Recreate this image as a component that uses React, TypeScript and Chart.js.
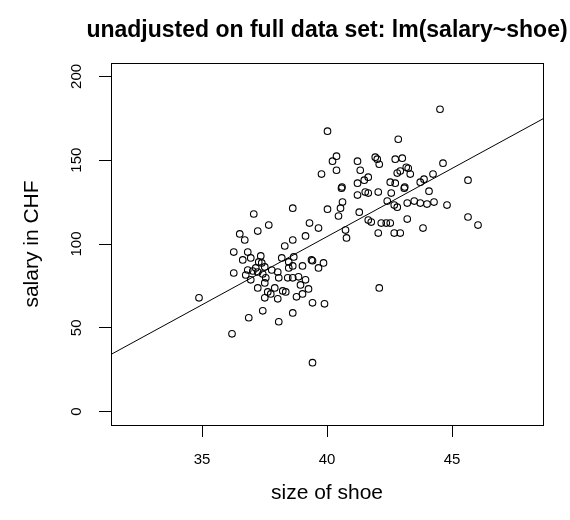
import React, { useEffect, useRef } from "react";
import { Chart, registerables } from "chart.js";

Chart.register(...registerables);

const titleText = "unadjusted on full data set: lm(salary~shoe)";
const xTitle = "size of shoe";
const yTitle = "salary in CHF";

const xTicks = [35, 40, 45];
const yTicks = [0, 50, 100, 150, 200];
const xRange = [31.36, 48.64];
const yRange = [-8, 208];

// fitted line read at the two edges of the plot region
const fitShoe = [31.36, 48.64];
const fitSalary = [34.1, 174.7];

const shoe = [
  40.02, 40.22, 40.38, 40.38, 39.78, 37.07, 38.63, 40.02, 37.67, 37.23, 39.3, 39.66, 36.51, 36.71, 39.14,
  44.52, 42.85, 41.22, 41.93, 42.01, 42.09, 42.73, 43.01, 43.17, 43.25, 43.33, 42.81, 42.93, 44.64, 41.33,
  41.65, 41.49, 41.22, 40.58, 40.6, 42.53, 42.73, 43.09, 43.11, 43.73, 43.88, 44.24, 45.64, 44.08, 41.53,
  41.65, 41.22, 42.05, 42.57, 40.62, 40.54, 40.46, 42.41, 42.69, 42.81, 43.21, 43.49, 43.73, 44.0, 44.28,
  44.8, 41.29, 41.65, 41.77, 42.17, 42.37, 42.53, 43.21, 43.84, 45.64, 46.04, 40.74, 42.05, 42.69, 42.93,
  40.78, 42.09,
  38.31, 38.63, 36.27, 36.83, 37.35, 36.63, 36.95, 38.19, 38.67, 38.47, 39.38, 39.42, 39.86, 39.66, 39.02,
  37.39, 37.51, 36.27, 36.83, 37.03, 37.23, 37.43, 36.95, 37.79, 38.03, 38.47, 38.63, 38.43, 38.63, 38.86,
  37.55, 38.07, 37.23, 37.51, 37.91, 38.23, 38.35, 39.14, 38.94, 39.26, 37.63, 37.75, 37.51, 38.03, 38.78,
  39.02, 39.42, 39.9, 34.88, 37.43, 36.87, 38.63, 38.07, 36.2, 39.42, 37.15, 36.75, 37.27,
];

const salary = [
  167.3, 149.4, 152.4, 144.0, 141.7, 117.9, 121.4, 120.8, 111.3, 107.7, 112.5, 109.5, 106.0, 102.4, 104.8,
  180.4, 162.5, 149.4, 151.8, 150.6, 147.6, 150.6, 151.2, 145.8, 145.2, 141.7, 142.3, 143.5, 148.2, 144.0,
  139.9, 138.1, 136.3, 133.3, 134.0, 136.9, 136.3, 133.3, 134.0, 136.9, 138.7, 141.7, 138.1, 131.5, 131.0,
  130.4, 129.2, 131.0, 130.4, 125.0, 121.4, 116.7, 125.6, 123.2, 122.0, 124.4, 125.6, 124.4, 123.8, 125.0,
  123.2, 119.0, 114.3, 113.1, 112.5, 112.5, 112.5, 114.9, 109.5, 116.1, 111.3, 108.3, 106.5, 106.5, 106.5,
  103.6, 73.8,
  98.8, 102.4, 95.2, 95.2, 92.9, 90.5, 91.7, 91.7, 92.3, 89.3, 90.5, 90.0, 88.7, 85.7, 86.9,
  88.7, 86.3, 82.7, 84.5, 83.9, 83.3, 82.1, 78.6, 84.5, 83.3, 85.7, 86.9, 79.8, 79.8, 80.4,
  79.8, 79.8, 73.8, 76.8, 73.8, 72.0, 71.4, 78.6, 75.6, 73.2, 71.4, 70.2, 67.9, 67.3, 68.5,
  70.2, 64.9, 64.3, 67.9, 60.1, 56.0, 58.9, 53.6, 46.4, 29.2, 85.7, 81.5, 89.3,
];

const FONT = "'Liberation Sans', Arial, sans-serif";

const rPlot = {
  id: "rPlot",
  afterDraw(chart: any) {
    const { ctx, chartArea: a, scales } = chart;
    ctx.save();
    ctx.strokeStyle = "#000";
    ctx.lineWidth = 1;
    ctx.strokeRect(a.left + 0.5, a.top + 0.5, a.right - a.left, a.bottom - a.top);
    ctx.fillStyle = "#000";
    ctx.font = `15px ${FONT}`;
    ctx.textAlign = "center";
    ctx.textBaseline = "middle";
    for (const v of yTicks) {
      const y = scales.y.getPixelForValue(v);
      ctx.save();
      ctx.translate(a.left - 34, y);
      ctx.rotate(-Math.PI / 2);
      ctx.fillText(String(v), 0, 0);
      ctx.restore();
    }
    ctx.font = `bold 23px ${FONT}`;
    ctx.textBaseline = "alphabetic";
    ctx.fillText(titleText, (a.left + a.right) / 2, 37);
    ctx.restore();
  },
};

export default function App() {
  const ref = useRef<HTMLCanvasElement>(null);
  useEffect(() => {
    if (!ref.current) return;
    const points = shoe.map((s, i) => ({ x: s, y: salary[i] }));
    const fit = fitShoe.map((s, i) => ({ x: s, y: fitSalary[i] }));
    const chart = new Chart(ref.current, {
      type: "scatter",
      data: {
        datasets: [
          {
            data: points,
            pointStyle: "circle",
            pointRadius: 3.3,
            borderColor: "#000",
            backgroundColor: "rgba(0,0,0,0)",
            borderWidth: 1.1,
          },
          {
            type: "line",
            data: fit,
            borderColor: "#000",
            borderWidth: 1,
            pointRadius: 0,
            showLine: true,
            fill: false,
          } as any,
        ],
      },
      options: {
        responsive: false,
        animation: false,
        events: [],
        layout: { padding: { top: 63, right: 27, left: 0, bottom: 0 } },
        plugins: { legend: { display: false }, tooltip: { enabled: false }, title: { display: false } },
        scales: {
          x: {
            type: "linear",
            min: xRange[0],
            max: xRange[1],
            afterBuildTicks: (s: any) => {
              s.ticks = xTicks.map((v) => ({ value: v }));
            },
            afterFit: (s: any) => {
              s.height = 95;
            },
            border: { display: false },
            grid: { drawOnChartArea: false, drawTicks: true, tickLength: 12, color: "#000", lineWidth: 1 },
            ticks: { color: "#000", font: { family: FONT, size: 15 }, padding: 14, maxRotation: 0, autoSkip: false },
            title: {
              display: true,
              text: xTitle,
              color: "#000",
              font: { family: FONT, size: 21 },
              padding: { top: 0, bottom: 14 },
            },
          },
          y: {
            type: "linear",
            min: yRange[0],
            max: yRange[1],
            afterBuildTicks: (s: any) => {
              s.ticks = yTicks.map((v) => ({ value: v }));
            },
            afterFit: (s: any) => {
              s.width = 111;
            },
            border: { display: false },
            grid: { drawOnChartArea: false, drawTicks: true, tickLength: 12, color: "#000", lineWidth: 1 },
            ticks: { display: false },
            title: {
              display: true,
              text: yTitle,
              color: "#000",
              font: { family: FONT, size: 21 },
              padding: { top: 20, bottom: 0 },
            },
          },
        },
      },
      plugins: [rPlot],
    });
    return () => chart.destroy();
  }, []);
  return (
    <div style={{ position: "absolute", left: 0, top: 0, width: 570, height: 520, background: "#fff" }}>
      <canvas ref={ref} width={570} height={520} />
    </div>
  );
}
